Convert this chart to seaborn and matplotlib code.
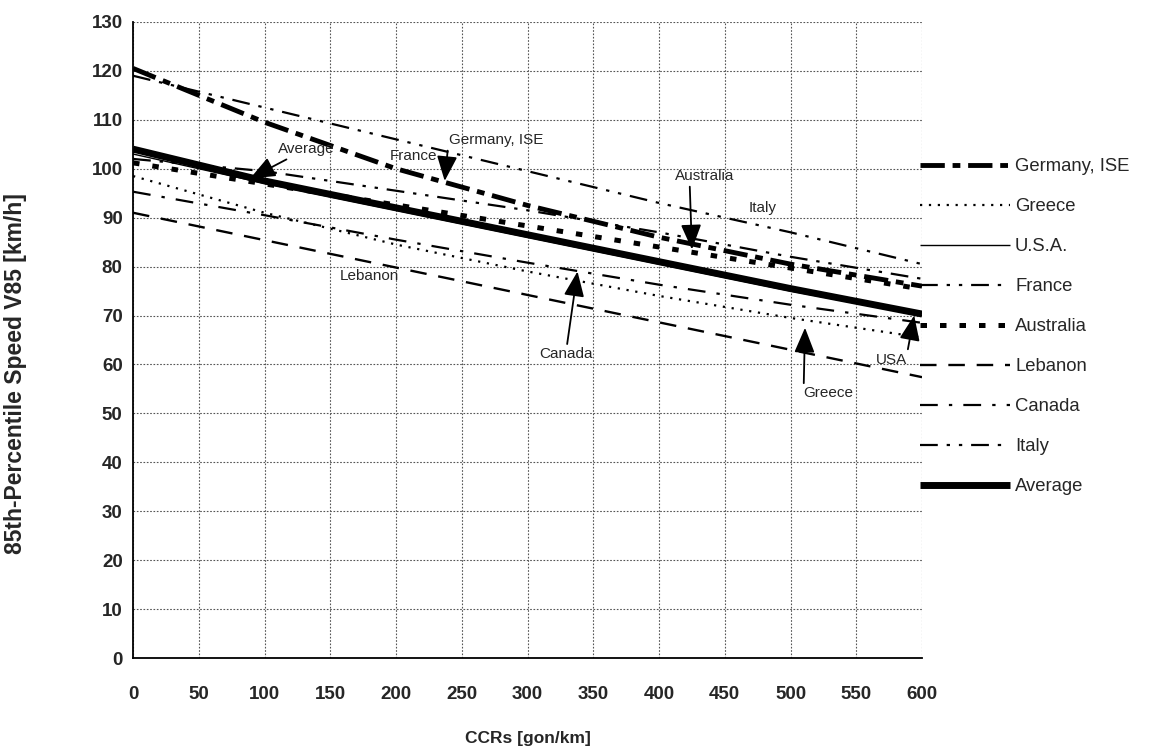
"""Operating speed models: V85 versus curvature change rate (CCRs)."""

import matplotlib
matplotlib.use("Agg")
import matplotlib.pyplot as plt
import numpy as np
import pandas as pd
import seaborn as sns

# ── Data ──────────────────────────────────────────────────────
ccr = [0, 100, 200, 300, 400, 500, 600]

germany = [120.5, 109.5, 100.0, 92.5, 86.0, 80.5, 76.0]
greece = [98.5, 91.0, 84.5, 79.0, 74.0, 69.5, 65.5]
usa = [103.0, 97.0, 91.5, 86.0, 80.5, 75.0, 70.0]
france = [102.0, 99.5, 95.5, 91.5, 87.0, 82.0, 77.5]
australia = [101.2, 96.9, 92.6, 88.3, 84.0, 79.7, 75.4]
lebanon = [91.0, 85.4, 79.8, 74.2, 68.6, 63.0, 57.4]
canada = [95.3, 90.5, 85.5, 80.8, 76.3, 72.2, 68.5]
italy = [119.0, 112.5, 106.0, 99.5, 93.0, 87.0, 80.5]
average = [104.0, 97.5, 92.0, 86.5, 81.0, 75.5, 70.3]

series_names = ["Germany, ISE", "Greece", "U.S.A.", "France", "Australia",
                "Lebanon", "Canada", "Italy", "Average"]
series_values = [germany, greece, usa, france, australia,
                 lebanon, canada, italy, average]

# line style per series: (linewidth, linestyle)
styles = {
    "Germany, ISE": (3.5, (0, (5, 1.6, 1.6, 1.6))),
    "Greece": (1.6, (0, (1, 3))),
    "U.S.A.": (1.0, "-"),
    "France": (1.6, (0, (8, 4, 1.5, 4, 1.5, 4))),
    "Australia": (3.6, (0, (1.3, 2.6))),
    "Lebanon": (1.7, (0, (7, 5))),
    "Canada": (1.6, (0, (8, 5, 1.5, 5))),
    "Italy": (1.6, (0, (8, 4, 1.5, 4, 1.5, 4))),
    "Average": (5.0, "-"),
}

df = pd.DataFrame({"CCR": np.tile(ccr, len(series_names)),
                   "V85": np.concatenate(series_values),
                   "model": np.repeat(series_names, len(ccr))})

sns.set_style("white")
plt.rcParams["font.family"] = ["Liberation Sans", "DejaVu Sans"]

fig = plt.figure(figsize=(11.62, 7.56), dpi=100)
ax = fig.add_axes([0.1145, 0.1296, 0.679, 0.8414])

for name in series_names:
    lw, ls = styles[name]
    sub = df[df["model"] == name]
    sns.lineplot(data=sub, x="CCR", y="V85", ax=ax, color="black",
                 linewidth=lw, linestyle=ls, label=name,
                 solid_capstyle="butt", dash_capstyle="butt")

ax.set_xlim(0, 600)
ax.set_ylim(0, 130)
ax.set_xticks(np.arange(0, 601, 50))
ax.set_yticks(np.arange(0, 131, 10))
ax.grid(True, color="#555555", linestyle=(0, (1.5, 1.5)), linewidth=0.8)
ax.set_axisbelow(True)
for side in ("top", "right"):
    ax.spines[side].set_visible(False)
for side in ("left", "bottom"):
    ax.spines[side].set_color("black")
    ax.spines[side].set_linewidth(1.3)
ax.tick_params(axis="both", labelsize=13.5, length=4, color="black", width=1)
ax.tick_params(axis="x", pad=16)
for lab in ax.get_xticklabels() + ax.get_yticklabels():
    lab.set_fontweight("bold")
ax.set_xlabel("CCRs [gon/km]", fontsize=12.5, fontweight="bold")
ax.xaxis.set_label_coords(0.5, -0.114)
ax.set_ylabel("85th-Percentile Speed V85 [km/h]", fontsize=16.5,
              fontweight="bold")
ax.yaxis.set_label_coords(-0.134, 0.447)

# ── Annotations ────────────────────────────────────────────────
arrow = dict(arrowstyle="-|>,head_length=1.1,head_width=0.45",
             color="black", lw=1.3, mutation_scale=14, shrinkA=0, shrinkB=0)
tsize = 11
ax.annotate("Average", xy=(89, 98), xytext=(110, 104), fontsize=tsize,
            va="center", ha="left", arrowprops=arrow)
ax.annotate("Germany, ISE", xy=(237, 97.5), xytext=(240, 105.8),
            fontsize=tsize, va="center", ha="left",
            arrowprops=dict(arrow, relpos=(0, 0.5)))
ax.text(195, 102.7, "France", fontsize=tsize, va="center", ha="left")
ax.annotate("Australia", xy=(425, 83.5), xytext=(412, 97), fontsize=tsize,
            va="bottom", ha="left", arrowprops=dict(arrow, relpos=(0.25, 0)))
ax.text(468, 92, "Italy", fontsize=tsize, va="center", ha="left")
ax.text(157, 78, "Lebanon", fontsize=tsize, va="center", ha="left")
ax.annotate("Canada", xy=(338, 79), xytext=(329, 63.5), fontsize=tsize,
            va="top", ha="center", arrowprops=arrow)
ax.annotate("Greece", xy=(511, 67.5), xytext=(510, 55.5), fontsize=tsize,
            va="top", ha="left", arrowprops=dict(arrow, relpos=(0, 1)))
ax.annotate("USA", xy=(594, 70), xytext=(565, 61), fontsize=tsize,
            va="center", ha="left", arrowprops=dict(arrow, relpos=(1, 1)))

leg = ax.legend(loc="upper left", bbox_to_anchor=(0.7917, 0.791),
                bbox_transform=fig.transFigure, frameon=False, fontsize=13.3,
                handlelength=4.9, handletextpad=0.25, labelspacing=1.245,
                borderpad=0, borderaxespad=0)

fig.savefig("out.png", dpi=100)
plt.close(fig)
